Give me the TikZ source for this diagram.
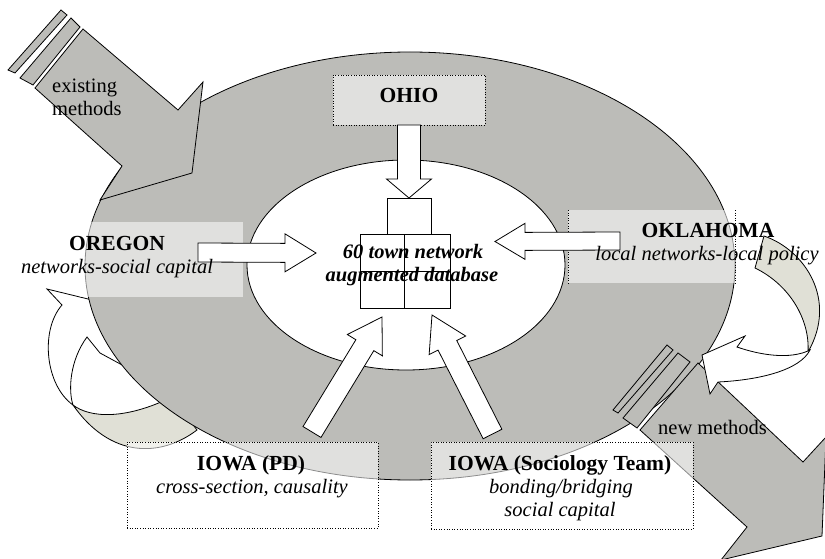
\documentclass[tikz,border=0pt]{standalone}
\usepackage{fontspec}
\setmainfont{Liberation Serif}
\usetikzlibrary{calc}
\definecolor{ringgray}{RGB}{188,188,184}
\definecolor{lightfill}{RGB}{224,224,214}
% #1 base-coordinate name, #2 tail, #3 tip, #4 shaft half width, #5 head half width, #6 head length, #7 style
\newcommand{\blkarrow}[7]{%
  \coordinate (#1) at ($(#3)!#6!(#2)$);
  \draw[#7] ($(#2)!#4!90:(#3)$) -- ($(#1)!#4!90:(#3)$) -- ($(#1)!#5!90:(#3)$) -- (#3)
    -- ($(#1)!#5!-90:(#3)$) -- ($(#1)!#4!-90:(#3)$) -- ($(#2)!#4!-90:(#3)$) -- cycle;}
\begin{document}
\begin{tikzpicture}[x=1pt,y=-1pt,line join=miter,
  outl/.style={draw=black,line width=0.8pt},
  whitearrow/.style={outl,fill=white},
  grayshape/.style={outl,fill=ringgray},
  backband/.style={outl,fill=lightfill},
  overlaybox/.style={fill=white,fill opacity=0.55,inner sep=0pt,outer sep=0pt},
  dotbox/.style={overlaybox,draw=black,dotted,line width=0.6pt},
  dbbox/.style={outl,fill=white,inner sep=0pt,outer sep=0pt},
  lbl/.style={inner sep=0pt,font=\fontsize{20.5}{23}\selectfont,anchor=base},
  hdl/.style={inner sep=0pt,font=\fontsize{21.5}{23}\selectfont\bfseries,anchor=base},
]
\useasboundingbox (0,0) rectangle (825,559);
\clip (0,0) rectangle (825,559);

% left curved arrow (behind the ring)
\draw[backband] (73,405) .. controls (90,418) and (125,420) .. (172,397) -- (197,430)
   .. controls (160,458) and (110,458) .. (73,405) -- cycle;
\draw[whitearrow] (73,405) .. controls (45,385) and (40,330) .. (62,305) -- (47,289) -- (125,308)
   -- (135,372) -- (100,353) -- (87,337) .. controls (70,360) and (68,390) .. (73,405) -- cycle;

% ring
\path[fill=ringgray,even odd rule] (410,266) ellipse [x radius=325pt,y radius=214pt]
   (406,265) ellipse [x radius=159pt,y radius=105pt];
\draw[outl] (410,266) ellipse [x radius=325pt,y radius=214pt];
\draw[outl] (406,265) ellipse [x radius=159pt,y radius=105pt];

% existing methods arrow
\draw[grayshape] (8,70) -- (61,10) -- (67,15) -- (15,73) -- cycle;
\draw[grayshape] (20,78) -- (71,18) -- (80,27) -- (33,85) -- cycle;
\draw[grayshape] (83,29) -- (178,110) -- (203,82) -- (192,173) -- (100,200) -- (122,166) -- (35,88) -- cycle;

% new methods arrow
\draw[grayshape] (613,410) -- (667,345) -- (673,350) -- (618,413) -- cycle;
\draw[grayshape] (623,418) -- (678,353) -- (690,362) -- (637,428) -- cycle;
\draw[grayshape] (698,363) -- (803,462) -- (826,437) -- (822,536) -- (721,560) -- (747,527) -- (640,430) -- cycle;

% right curved arrow
\draw[backband] (764,236) .. controls (805,250) and (838,300) .. (808,352)
   .. controls (810,320) and (790,285) .. (755,268) -- cycle;
\draw[whitearrow] (810,350) .. controls (790,360) and (760,355) .. (737,347) -- (745,336) -- (702,355)
   -- (710,394) -- (718,382) .. controls (760,380) and (800,370) .. (810,350) -- cycle;

% boxes (light overlays)
\node[dotbox,minimum width=152pt,minimum height=50pt] (ohio) at (409,100) {};
\node[overlaybox,minimum width=163pt,minimum height=75pt] (oregon) at (161.5,259.5) {};
\node[overlaybox,minimum width=167pt,minimum height=73pt] (oklahoma) at (651.5,246.5) {};
\draw[dotted,line width=0.6pt] (oklahoma.north west) -- (oklahoma.south west)
   (oklahoma.north east) -- (oklahoma.south east);
\node[dotbox,minimum width=251pt,minimum height=86pt] (iowapd) at (252.5,485) {};
\node[dotbox,minimum width=262pt,minimum height=87pt] (iowasoc) at (562,485.5) {};

% database
\node[dbbox,minimum width=44pt,minimum height=36pt] (dbtop) at (409,216) {};
\node[dbbox,minimum width=90pt,minimum height=74pt] (dbgrid) at (405,271) {};
\draw[outl] (dbgrid.north) ++(-1,0) coordinate (dbv1) -- (dbgrid.south -| dbv1);
\draw[outl] (dbgrid.west) -- (dbgrid.east);

% block arrows into the database
\coordinate (oregonT) at (198,252.5);
\coordinate (oregonP) at (316,253);
\coordinate (oklaT) at (620,241);
\coordinate (oklaP) at (495,241.5);
\coordinate (pdT) at (312,432);
\coordinate (pdP) at (382,317);
\coordinate (socT) at (492.5,434);
\coordinate (socP) at (432,315);
\blkarrow{ohioB}{ohio.south}{dbtop.north}{11.5pt}{22.5pt}{19pt}{whitearrow}
\blkarrow{oregonB}{oregonT}{oregonP}{9.5pt}{19pt}{31pt}{whitearrow}
\blkarrow{oklaB}{oklaT}{oklaP}{9pt}{18pt}{30pt}{whitearrow}
\blkarrow{pdB}{pdT}{pdP}{10.5pt}{20.5pt}{33pt}{whitearrow}
\blkarrow{socB}{socT}{socP}{10.5pt}{20.5pt}{34pt}{whitearrow}

% texts
\node[hdl] (tohio) at (409,103) {OHIO};
\node[lbl] (tdb1) at (413,258) {\bfseries\itshape 60 town network};
\node[lbl] (tdb2) at (412,281) {\bfseries\itshape augmented database};
\node[hdl] (tor1) at (117,250) {OREGON};
\node[lbl] (tor2) at (117,273) {\itshape networks-social capital};
\node[hdl] (tok1) at (708,237) {OKLAHOMA};
\node[lbl] (tok2) at (707,260) {\itshape local networks-local policy};
\node[hdl] (tpd1) at (251,470) {IOWA (PD)};
\node[lbl] (tpd2) at (252,493) {\itshape cross-section, causality};
\node[hdl] (tso1) at (560,470) {IOWA (Sociology Team)};
\node[lbl] (tso2) at (561,493) {\itshape bonding/bridging};
\node[lbl] (tso3) at (560,516) {\itshape social capital};
\node[lbl,anchor=base west] (tex1) at (52,93) {existing};
\node[lbl,anchor=base west] (tex2) at (52,116) {methods};
\node[lbl,anchor=base west] (tnew) at (658,434) {new methods};
\end{tikzpicture}
\end{document}
